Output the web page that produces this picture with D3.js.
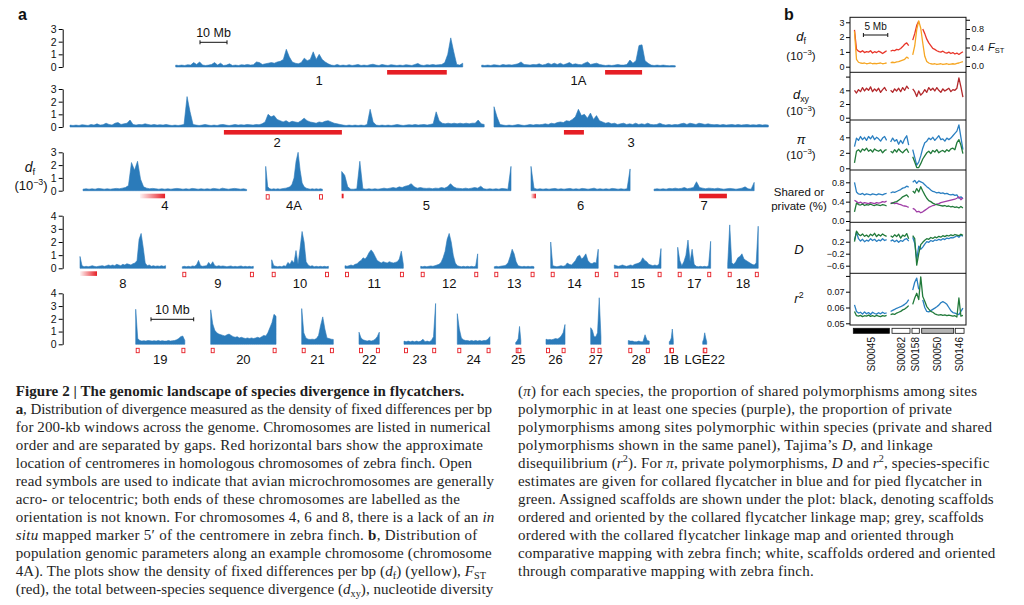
<!DOCTYPE html>
<html lang="en">
<head>
<meta charset="utf-8">
<title>The genomic landscape of species divergence in flycatchers</title>
<style>
  body { margin: 0; background: #fff; }
  svg { display: block; }
  text { white-space: pre; }
</style>
</head>
<body>
<svg id="fig" width="1024" height="605" viewBox="0 0 1024 605"></svg>

<script src="https://d3js.org/d3.v7.min.js"></script>
<script>
// ===================================
// DATA : panel a (df, 10^-3, per window)
// ===================================
var chromNames = ["1","1A","2","3","4","4A","5","6","7","8","9","10","11","12","13","14","15","17","18",
                  "19","20","21","22","23","24","25","26","27","28","1B","LGE22"];
var chromLengthMb = [106.3,71.7,153.4,101.6,60.6,21.0,62.7,36.7,37.1,31.7,26.3,21.0,21.6,21.1,14.7,17.6,17.3,12.2,11.3,
                     11.5,15.3,7.4,4.75,7.4,7.65,1.2,4.45,2.4,4.9,0.94,0.94];

var df_chr1 = [.15,.12,.15,.12,.18,.15,.35,.2,.4,.15,.12,.15,.2,.35,.15,.3,.12,.15,.25,.12,
  .15,.12,.18,.15,.2,.15,.18,.4,.35,.2,.25,.3,.35,.3,.4,.45,.6,1.4,.8,.4,
  .3,.25,.35,.7,.5,.6,1.2,.6,1.0,.6,.4,.25,.15,.12,.2,.12,.15,.12,.18,.12,
  .15,.2,.12,.15,.12,.18,.22,.15,.12,.2,.15,.12,.18,.15,.12,.15,.12,.18,.15,.12,
  .2,.28,.15,.12,.18,.15,.2,.15,.18,.2,.35,1.0,2.3,1.2,.2,.15,.3];
var df_chr1A = [.15,.12,.15,.12,.18,.15,.12,.2,.15,.18,.15,.2,.25,.4,.2,.18,.15,.2,.18,.25,
  .15,.2,.3,.2,.3,.2,.3,.18,.25,.35,.2,.25,.2,.18,.3,.4,.2,.25,.3,.2,
  .15,.12,.15,.12,.15,.2,.15,.15,.2,.55,.3,.5,1.7,1.75,.5,.3,.15,.12,.15,.12,.15,.12,.1,.12,.1];
var df_chr2 = [.15,.12,.15,.12,.18,.15,.12,.2,.15,.25,.15,.18,.3,.2,.15,.3,.35,.2,.25,.3,.55,
  .2,.15,.2,.18,.25,.2,.15,.2,.15,.18,.15,.2,.15,.12,.15,.12,.15,.2,
  2.4,1.2,
  .2,.15,.12,.15,.2,.15,.12,.15,.12,.18,.2,.15,.12,.15,.2,.15,.18,.15,.2,.18,.15,.2,.18,.25,.4,
  1.0,.8,.9,.6,.5,.4,.5,.35,.45,.4,.35,.5,.7,.5,.4,.35,.3,.4,.35,.45,.5,.4,.3,.25,
  .2,.15,.12,.15,.12,.15,.12,.15,.12,.2,1.4,.4,.15,.12,
  .15,.12,.15,.12,.15,.2,.15,.12,.15,.18,.15,.2,.15,.18,.2,.15,.2,.25,1.2,.5,.3,.25,.3,.25,.3,.25,.3,.25,.3,.25,.3,.3,.55,.25,.2];
var df_chr3 = [1.6,.8,.2,.15,.12,.15,.12,.15,.2,.15,.12,.15,.2,.15,.2,.18,.2,.25,.2,.3,
  .25,.35,.4,.35,.5,.45,.6,.8,1.4,.9,1.0,.7,1.1,.6,.9,.5,.4,.3,.35,.25,
  .3,.2,.25,.3,.2,.25,.2,.3,.2,.25,.2,.3,.2,.18,.2,.3,.2,.15,.2,.15,
  .2,.18,.25,.3,.2,.3,.25,.2,.3,.25,.2,.25,.2,.18,.2,.15,.2,.15,.18,.2,
  .15,.2,.15,.18,.2,.15,.18,.15,.2,.15,.18,.15];
var df_chr4 = [.12,.15,.12,.15,.12,.18,.15,.12,.15,.12,.15,.18,.15,.2,.25,.4,2.2,1.6,2.3,.9,
  .3,.2,.15,.18,.15,.12,.15,.12,.15,.12,.15,.18,.15,.12,.15,.12,.18,.15,.12,.15,
  .12,.15,.12,.18,.15,.12,.2,.15,.12,.15,.18,.15,.12,.15,.1];
var df_chr4A = [1.9,.3,.15,.12,.15,.12,.15,.12,.15,.18,.2,.25,.3,.5,1.0,2.3,3.0,1.6,.6,.3,.2,.15,.12,.15,.12,.15,.12,.15,.12];
var df_chr5 = [1.5,1.2,.3,.12,.12,.15,2.3,.15,.12,.15,.12,.15,.12,.15,.2,.15,.2,.25,.2,.3,
  .25,.35,.4,.55,.3,.2,.25,.2,.18,.2,.15,.2,.18,.25,.2,.3,.55,.3,.2,.18,
  .15,.2,.15,.2,.25,.2,.35,.15,.12,.15,.12,.15,.12,.18,.15,.12,1.9];
var df_chr6 = [1.9,.2,.12,.15,.12,.15,.12,.15,.18,.12,.15,.12,.15,.18,.12,.15,.12,.18,.15,.12,
  .15,.2,.12,.15,.12,.15,.12,.18,.15,.12,.15,.12,.15,1.7];
var df_chr7 = [.12,.15,.12,.15,.12,.18,.15,.2,.15,.18,.25,.15,.2,.25,.7,.25,.2,.15,.2,.18,
  .15,.2,.15,.12,.15,.18,.15,.12,.15,.2,.3,.15,.12,.65];
var df_chr8 = [.9,.2,.12,.15,.12,.15,.2,.15,.12,.15,.18,.2,.15,.2,.25,.2,.25,.2,.3,.25,
  .2,.3,.25,.35,.3,.25,.35,.4,.6,2.2,2.65,1.6,.4,.2,.25,.15,.2,.15,.18,.15,.2,.15,.2];
var df_chr9 = [.12,.15,.12,.15,.12,.18,.15,.25,.6,.2,.15,.18,.2,.45,.25,.5,.2,.15,.2,.15,
  .18,.15,.12,.15,.18,.12,.15,.12,.15,.18,.12,.15,.12,.15,.12,.15];
var df_chr10 = [.65,.2,.15,.12,.15,.12,.2,.15,.45,.3,.6,.4,1.35,.3,1.5,2.8,2.0,.5,.25,.15,.2,.12,.15,.12,.15,.12,.15,.12,.15];
var df_chr11 = [.2,.15,.2,.25,.2,.3,.35,.5,.6,.8,.7,.9,1.2,1.4,1.2,.9,.6,.5,.4,.5,.45,.4,.5,.45,.4,.45,.5,.7,1.3,.3];
var df_chr12 = [.15,.12,.15,.12,.15,.18,.15,.2,.25,.3,.45,.8,1.3,2.2,2.65,2.0,1.0,.4,.2,.15,.12,.15,.12,.15,.12,.15,.12,.15,1.1];
var df_chr13 = [.12,.15,.12,.15,.18,.2,.25,.45,.9,1.45,1.1,.5,.2,.15,.12,.15,.12,.15,.12,.15,.12];
var df_chr14 = [2.0,.2,.15,.12,.15,.2,.15,.2,.4,.3,.25,.4,.6,.9,1.0,.7,.85,1.1,.6,.4,.35,.45,.4,1.45];
var df_chr15 = [.25,.2,.15,.2,.25,.2,.15,.2,.25,.2,.3,.35,.4,.5,.8,.6,.5,.3,.25,.2,.25,.2,.3,1.5];
var df_chr17 = [1.6,.6,.2,.5,1.0,2.15,.5,1.45,.3,.15,.12,.15,.12,.15,.12,.2,2.05];
var df_chr18 = [.3,3.3,.4,.3,.5,.8,.9,1.1,.7,.6,.5,.4,.3,.25,.4,3.2];
var df_chr19 = [2.75,.45,.3,.25,.28,.25,.3,.28,.25,.28,.25,.3,.25,.28,.25,.25,.3,.25,.28,.3,.35,.45,.6,.65,.3];
var df_chr20 = [2.7,1.6,1.1,.9,.8,.75,.7,.65,.75,.8,.7,.6,.55,.6,.5,.55,.5,.45,.5,.45,.5,.45,.5,.55,.5,.6,.7,.65,.9,1.3,1.7,2.35,2.2];
var df_chr21 = [2.8,.9,.5,.4,.38,.4,.38,.45,.7,1.5,2.15,1.2,.5,.45,.4,.38];
var df_chr22 = [.95,.5,.35,.3,.25,.3,.25,.3,.4,.6,.95];
var df_chr23 = [.25,.2,.25,.2,.25,.2,.25,.2,.25,.4,.2,.25,.2,.3,.6,3.2];
var df_chr24 = [2.4,1.2,.5,.35,.3,.3,.25,.3,.25,.3,.25,.3,.25,.3,.3,.4,.6];
var df_chr25 = [.15,.25,.45,1.4,.3];
var df_chr26 = [.4,.35,.38,.35,.4,.45,.42,.5,.65,.9,1.55];
var df_chr27 = [1.3,1.1,.6,.6,.9,3.65,.6];
var df_chr28 = [.3,.25,.25,.2,.2,.25,.2,.2,.75,.3,.25];
var df_chr1B = [.2,.3,.5,1.2,.3];
var df_chrLGE22 = [.2,.4,.9,.5,.2];

var chromValues = [df_chr1,df_chr1A,df_chr2,df_chr3,df_chr4,df_chr4A,df_chr5,df_chr6,df_chr7,df_chr8,df_chr9,
  df_chr10,df_chr11,df_chr12,df_chr13,df_chr14,df_chr15,df_chr17,df_chr18,df_chr19,df_chr20,df_chr21,df_chr22,
  df_chr23,df_chr24,df_chr25,df_chr26,df_chr27,df_chr28,df_chr1B,df_chrLGE22];

// zebra finch centromeres (Mb along chromosome)
var centroChrom   = ["1","1A","2","3","4","5","6","7","8"];
var centroStartMb = [78.3,45.7,57.0,25.9,21.1,0,0,16.7,0];
var centroEndMb   = [100.4,59.4,100.7,33.3,30.4,0.7,1.85,27.0,6.3];
var centroFade    = [false,false,false,false,true,false,true,false,true];
// acro-/telocentric microchromosomes (both ends marked)
var teloChroms = ["4A","9","10","11","12","13","14","15","17","18","19","20","21","22","23","24","25","26","27","28","1B","LGE22"];

// ===================================
// DATA : panel b (chromosome 4A)
// ===================================
var bFst = [0.78,0.36,0.32,0.30,0.33,0.29,0.31,0.30,0.33,0.28,0.31,0.29,0.32,0.30,0.27,0.30,0.33,null,0.32,0.34,0.33,0.36,0.35,0.38,0.42,0.47,0.50,0.44,null,0.56,0.70,0.88,0.97,null,0.80,0.70,0.58,0.50,0.44,0.38,0.36,0.33,0.31,0.30,0.32,0.29,0.28,0.30,0.27,0.29,0.26,0.28,0.25,0.28,0.31];
var bDf = [2.4,0.5,0.3,0.25,0.22,0.25,0.2,0.22,0.25,0.2,0.22,0.2,0.23,0.25,0.2,0.22,0.25,null,0.28,0.3,0.28,0.32,0.35,0.4,0.45,0.5,0.65,0.55,null,0.8,1.4,2.5,3.1,2.6,1.6,0.7,0.35,0.25,0.2,0.18,0.2,0.15,0.18,0.2,0.15,0.18,0.2,0.15,0.18,0.2,0.18,0.22,0.25,0.3,0.35];
var bDxy = [4.0,3.6,4.1,3.8,4.4,3.9,4.3,4.0,4.5,3.8,4.2,3.9,4.3,3.7,4.1,4.4,3.9,null,4.0,3.7,4.2,3.9,4.3,3.8,4.4,4.0,4.6,4.2,null,4.2,3.8,3.1,3.9,3.3,3.6,4.1,3.7,4.4,4.0,4.3,3.9,4.4,4.0,3.7,4.2,3.9,4.1,4.3,3.8,4.1,4.0,4.3,5.8,4.5,3.0];
var bPiCollared = [2.8,3.9,3.6,4.1,3.7,4.0,3.6,4.1,3.8,4.2,3.7,4.0,3.8,3.5,3.9,4.1,3.6,null,3.4,3.9,3.5,3.7,3.1,3.6,3.2,3.8,4.2,3.0,null,2.4,1.4,0.4,0.8,1.6,2.6,3.3,3.5,3.9,3.7,4.0,3.6,3.9,4.2,3.7,3.8,3.5,3.9,3.7,3.9,4.2,4.5,4.8,5.6,4.0,2.4];
var bPiPied = [0.7,2.2,2.4,2.1,2.5,2.3,2.6,2.2,2.4,2.1,2.5,2.3,2.2,2.4,2.0,2.3,2.4,null,2.2,2.0,2.4,2.1,2.5,2.2,2.0,2.3,2.5,2.0,null,1.5,0.8,0.1,0.1,0.6,1.2,1.6,2.0,2.2,1.9,2.3,2.1,2.4,2.0,2.2,2.3,2.1,2.4,2.2,2.5,2.6,2.4,3.3,3.7,3.0,1.9];
var bShared = [0.43,0.40,0.37,0.39,0.36,0.38,0.37,0.36,0.38,0.37,0.36,0.38,0.37,0.38,0.40,0.39,0.41,null,0.37,0.38,0.36,0.37,0.35,0.34,0.32,0.31,0.30,0.28,null,0.26,0.24,0.19,0.20,0.17,0.19,0.22,0.25,0.28,0.30,0.32,0.33,0.35,0.36,0.38,0.39,0.40,0.41,0.42,0.43,0.44,0.45,0.47,0.50,0.44,0.48];
var bPrivCollared = [0.80,0.60,0.56,0.55,0.57,0.54,0.56,0.55,0.54,0.56,0.55,0.54,0.56,0.55,0.54,0.56,0.57,null,0.58,0.60,0.59,0.61,0.63,0.65,0.68,0.69,0.72,0.70,null,0.80,0.84,0.78,0.83,0.81,0.79,0.75,0.71,0.68,0.64,0.61,0.60,0.58,0.59,0.57,0.58,0.56,0.57,0.55,0.54,0.55,0.53,0.54,0.47,0.50,0.46];
var bPrivPied = [0.19,0.37,0.34,0.33,0.35,0.32,0.34,0.33,0.35,0.33,0.32,0.34,0.33,0.32,0.34,0.33,0.31,null,0.36,0.37,0.39,0.40,0.43,0.46,0.50,0.52,0.54,0.49,null,0.62,0.58,0.67,0.60,0.71,0.62,0.54,0.47,0.42,0.40,0.37,0.35,0.34,0.33,0.32,0.31,0.32,0.30,0.31,0.29,0.30,0.28,0.29,0.27,0.30,0.27];
var bDCollared = [0.26,0.52,0.30,0.22,0.28,0.20,0.25,0.22,0.30,0.24,0.28,0.21,0.26,0.23,0.30,0.24,0.27,null,0.22,0.26,0.20,0.25,0.18,0.24,0.21,0.28,0.30,0.22,null,0.35,0.15,-0.40,0.05,-0.05,0.02,0.12,0.20,0.18,0.24,0.21,0.26,0.24,0.28,0.25,0.30,0.27,0.32,0.30,0.34,0.33,0.36,0.40,0.35,0.42,0.38];
var bDPied = [0.20,0.55,0.45,0.40,0.46,0.38,0.42,0.36,0.45,0.40,0.48,0.37,0.44,0.39,0.46,0.41,0.38,null,0.40,0.35,0.43,0.37,0.45,0.32,0.42,0.38,0.47,0.30,null,0.40,0.30,-0.58,-0.20,0.10,0.18,0.25,0.30,0.28,0.34,0.31,0.36,0.33,0.38,0.35,0.40,0.37,0.41,0.39,0.43,0.40,0.44,0.42,0.40,0.45,0.41];
var bR2Collared = [0.0617,0.0575,0.0565,0.0570,0.0558,0.0572,0.0560,0.0568,0.0556,0.0570,0.0562,0.0558,0.0567,0.0560,0.0570,0.0562,0.0566,null,0.0575,0.0582,0.0588,0.0595,0.0600,0.0605,0.0612,0.0620,0.0630,0.0650,null,0.0710,0.0760,0.0786,0.0715,null,0.0648,0.0600,0.0575,0.0572,0.0580,0.0588,0.0596,0.0605,0.0615,0.0630,0.0637,0.0630,0.0620,0.0600,0.0580,0.0568,0.0565,0.0560,0.0555,0.0575,0.0596];
var bR2Pied = [0.0575,0.0548,0.0545,0.0550,0.0542,0.0548,0.0545,0.0552,0.0544,0.0548,0.0543,0.0550,0.0546,0.0542,0.0549,0.0545,0.0550,null,0.0555,0.0560,0.0556,0.0565,0.0570,0.0575,0.0585,0.0590,0.0600,0.0612,null,0.0620,0.0660,0.0690,0.0650,0.0794,0.0669,0.0640,0.0606,0.0590,0.0575,0.0570,0.0560,0.0555,0.0552,0.0555,0.0550,0.0553,0.0548,0.0552,0.0549,0.0545,0.0548,0.0540,0.0660,0.0545,0.0550];
var bWinStartMb = 0.92, bWinStepMb = 0.412;

var scaffoldNames   = ["S00045","S00082","S00158","S00050","S00146"];
var scaffoldStartMb = [0.68,8.62,12.72,14.71,21.6];
var scaffoldEndMb   = [8.07,12.31,14.22,21.28,23.4];
var scaffoldFill    = ["#000","#fff","#fff","#b4b4b4","#fff"];

// ===================================
// CAPTION
// ===================================
var captionLeft = [
  "<b>Figure 2 | The genomic landscape of species divergence in flycatchers.</b>",
  "<b>a</b>, Distribution of divergence measured as the density of fixed differences per bp",
  "for 200-kb windows across the genome. Chromosomes are listed in numerical",
  "order and are separated by gaps. Red horizontal bars show the approximate",
  "location of centromeres in homologous chromosomes of zebra finch. Open",
  "read symbols are used to indicate that avian microchromosomes are generally",
  "acro- or telocentric; both ends of these chromosomes are labelled as the",
  "orientation is not known. For chromosomes 4, 6 and 8, there is a lack of an <i>in</i>",
  "<i>situ</i> mapped marker 5\u2032 of the centromere in zebra finch. <b>b</b>, Distribution of",
  "population genomic parameters along an example chromosome (chromosome",
  "4A). The plots show the density of fixed differences per bp (<i>d</i><sub>f</sub>) (yellow), <i>F</i><sub>ST</sub>",
  "(red), the total between-species sequence divergence (<i>d</i><sub>xy</sub>), nucleotide diversity"
];
var captionRight = [
  "(<i>\u03c0</i>) for each species, the proportion of shared polymorphisms among sites",
  "polymorphic in at least one species (purple), the proportion of private",
  "polymorphisms among sites polymorphic within species (private and shared",
  "polymorphisms shown in the same panel), Tajima\u2019s <i>D</i>, and linkage",
  "disequilibrium (<i>r</i><sup>2</sup>). For <i>\u03c0</i>, private polymorphisms, <i>D</i> and <i>r</i><sup>2</sup>, species-specific",
  "estimates are given for collared flycatcher in blue and for pied flycatcher in",
  "green. Assigned scaffolds are shown under the plot: black, denoting scaffolds",
  "ordered and oriented by the collared flycatcher linkage map; grey, scaffolds",
  "ordered with the collared flycatcher linkage map and oriented through",
  "comparative mapping with zebra finch; white, scaffolds ordered and oriented",
  "through comparative mapping with zebra finch."
];

// ===================================
// LAYOUT
// ===================================
var chromRow = [0,0,1,1,2,2,2,2,2,3,3,3,3,3,3,3,3,3,3,4,4,4,4,4,4,4,4,4,4,4,4];
var chromX0 = [175.7,481.7,70,494,83,265.7,341.7,531,654,80,182.3,271.7,345,420.7,494.3,550.7,614.3,677.7,727.7,
               135.7,210.7,301.7,359,404,457.3,515.7,546,590.7,628.3,669.3,702.7];
var rowPxPerMb = [2.7,2.7,2.7,2.7,4.27];
var rowBasePx = [67,127,190.7,268.3,344.3];
var rowTopPx  = [29,89,152.3,215.7,293.3];
var rowMax    = [3,3,3,4,4];
var rowLabelY = [85,146.7,210,287.5,364.3];
var axisX = 62.7;

var capLeftX = 15.7, capRightX = 518;
var capBaseline = [396,414,432,450,468,486,504,522,540,558,576,594];
var capLeftEnd  = [464.3,492,490.7,483,472,494,460,494.3,477.3,491.7,486,493.3];
var capRightEnd = [977,952,992,932.7,989.3,982,993.7,983.7,953.7,995.3,813.7];

var sans = '"Liberation Sans", Arial, Helvetica, sans-serif';
var serif = '"Liberation Serif", "Times New Roman", serif';
var blue = "#2b7bba", red = "#e61e25";

var svg = d3.select("#fig");

// gradient for centromeres lacking a 5' marker
var grad = svg.append("defs").append("linearGradient").attr("id", "fade");
grad.append("stop").attr("offset", "0%").attr("stop-color", red).attr("stop-opacity", 0.05);
grad.append("stop").attr("offset", "100%").attr("stop-color", red).attr("stop-opacity", 1);

// rich text helper: <b>, <i>, <sub>, <sup>  (shifts done with dy)
function richText(sel, str, fs) {
  var st = {}, cur = 0;
  str.split(/(<\/?[a-z]+>)/).forEach(function(p) {
    if (!p) return;
    var m = p.match(/^<(\/?)([a-z]+)>$/);
    if (m) { st[m[2]] = !m[1]; return; }
    var t = sel.append("tspan").text(p);
    var shift = st.sub ? 0.22 * fs : (st.sup ? -0.38 * fs : 0);
    if (shift !== cur) { t.attr("dy", shift - cur); cur = shift; }
    if (st.b) t.attr("font-weight", "bold");
    if (st.i) t.attr("font-style", "italic");
    if (st.sub || st.sup) t.attr("font-size", fs * 0.68);
  });
  return sel;
}

function label(x, y, str, size, anchor) {
  var t = svg.append("text").attr("x", x).attr("y", y)
    .attr("font-family", sans).attr("font-size", size)
    .attr("text-anchor", anchor || "middle").attr("fill", "#111");
  return richText(t, str, size);
}

function scaleBar(x0, x1, y, txt, size) {
  var g = svg.append("g").attr("stroke", "#111").attr("stroke-width", 1);
  g.append("line").attr("x1", x0).attr("x2", x1).attr("y1", y).attr("y2", y);
  g.append("line").attr("x1", x0).attr("x2", x0).attr("y1", y - 2).attr("y2", y + 2);
  g.append("line").attr("x1", x1).attr("x2", x1).attr("y1", y - 2).attr("y2", y + 2);
  label((x0 + x1) / 2, y - 5, txt, size);
}

// ===================================
// PANEL A
// ===================================
label(18, 20, "<b>a</b>", 16, "start");

var rowY = rowBasePx.map(function(b, r) {
  return d3.scaleLinear().domain([0, rowMax[r]]).range([b, rowTopPx[r]]);
});

rowY.forEach(function(y, r) {
  var g = svg.append("g").attr("transform", "translate(" + axisX + ",0)")
    .call(d3.axisLeft(y).tickValues(d3.range(0, rowMax[r] + 1)).tickFormat(d3.format("d"))
      .tickSize(4).tickSizeOuter(0).tickPadding(2));
  g.attr("font-family", sans).attr("font-size", 10.5);
  g.selectAll("text").attr("fill", "#111");
});

label(30, 172, "<i>d</i><sub>f</sub>", 14);
label(31, 190, "(10<sup>\u22123</sup>)", 13);

var chromX = {};
chromNames.forEach(function(name, c) {
  var r = chromRow[c], vals = chromValues[c], len = chromLengthMb[c];
  var x = d3.scaleLinear().domain([0, len]).range([chromX0[c], chromX0[c] + len * rowPxPerMb[r]]);
  var y = rowY[r];
  chromX[name] = { x: x, row: r, len: len };
  var area = d3.area()
    .x(function(d, i) { return x(i / (vals.length - 1) * len); })
    .y0(y(0))
    .y1(function(d) { return y(d); });
  svg.append("path").datum(vals).attr("d", area)
    .attr("fill", blue).attr("stroke", blue).attr("stroke-width", 0.6).attr("stroke-linejoin", "round");
  label(x(len / 2), rowLabelY[r], name, 13);
});

// centromere bars
centroChrom.forEach(function(name, k) {
  var cx = chromX[name], x = cx.x, yb = rowBasePx[cx.row];
  svg.append("rect")
    .attr("x", x(centroStartMb[k])).attr("y", yb + 3)
    .attr("width", Math.max(1.5, x(centroEndMb[k]) - x(centroStartMb[k]))).attr("height", 4.6)
    .attr("fill", centroFade[k] ? "url(#fade)" : red);
});

// open symbols at both ends of microchromosomes
teloChroms.forEach(function(name) {
  var cx = chromX[name], x = cx.x, yb = rowBasePx[cx.row];
  [x(0), x(cx.len) - 3.4].forEach(function(px) {
    svg.append("rect").attr("x", px + 0.5).attr("y", yb + 4).attr("width", 3).attr("height", 4.4)
      .attr("fill", "#fff").attr("stroke", red).attr("stroke-width", 0.9);
  });
});

// 10 Mb scale bars
scaleBar(200, 200 + 10 * rowPxPerMb[0], 42.3, "10 Mb", 12.5);
scaleBar(151, 151 + 10 * rowPxPerMb[4], 319.3, "10 Mb", 12.5);

// ===================================
// PANEL B
// ===================================
label(784, 20, "<b>b</b>", 16, "start");

var bLeft = 850, bRight = 966, bTop = 17.3, bBottom = 325;
var bSeps = [72.3, 120, 170, 222.3, 273.3];
var bx = d3.scaleLinear().domain([0, 23.8]).range([bLeft, bRight]);
function bPos(i) { return bx(bWinStartMb + i * bWinStepMb); }

var yDf   = d3.scaleLinear().domain([0, 3]).range([66.7, 22.3]);
var yFst  = d3.scaleLinear().domain([0, 0.8]).range([66, 29]);
var yDxy  = d3.scaleLinear().domain([0, 4]).range([117.7, 90.3]);
var yPi   = d3.scaleLinear().domain([0, 4]).range([168.3, 137.3]);
var yPoly = d3.scaleLinear().domain([0, 0.8]).range([221, 182.3]);
var yD    = d3.scaleLinear().domain([-0.6, 0.2]).range([265.7, 241.7]);
var yR2   = d3.scaleLinear().domain([0.05, 0.07]).range([323.3, 291.7]);

function bAxis(y, ticks, labelled, fmt, right) {
  var ax = (right ? d3.axisRight(y) : d3.axisLeft(y)).tickValues(ticks).tickSize(4).tickPadding(1.5)
    .tickFormat(function(d) {
      return labelled.some(function(v) { return Math.abs(v - d) < 1e-9; }) ? d3.format(fmt)(d) : "";
    });
  var g = svg.append("g").attr("transform", "translate(" + (right ? bRight : bLeft) + ",0)").call(ax);
  g.select(".domain").remove();
  g.attr("font-family", sans).attr("font-size", 9);
  g.selectAll("text").attr("fill", "#111");
}

bAxis(yDf, [0, 1, 2, 3], [0, 1, 2, 3], "d");
bAxis(yFst, [0, 0.2, 0.4, 0.6, 0.8, 1.0], [0, 0.4, 0.8], ".1f", true);
bAxis(yDxy, [0, 2, 4, 6], [0, 2, 4], "d");
bAxis(yPi, [0, 2, 4, 6], [0, 2, 4], "d");
bAxis(yPoly, [0, 0.2, 0.4, 0.6, 0.8], [0, 0.4, 0.8], ".1f");
bAxis(yD, [-0.6, -0.2, 0.2, 0.6], [-0.6, -0.2, 0.2], ".1f");
bAxis(yR2, [0.05, 0.06, 0.07, 0.08], [0.05, 0.06, 0.07], ".2f");

function bLine(vals, y, color, w) {
  var line = d3.line()
    .defined(function(d) { return d !== null; })
    .x(function(d, i) { return bPos(i); })
    .y(function(d) { return y(d); });
  svg.append("path").datum(vals).attr("d", line)
    .attr("fill", "none").attr("stroke", color).attr("stroke-width", w || 1.3).attr("stroke-linejoin", "round");
}

var cFst = "#e8362a", cDf = "#f6a623", cDxy = "#b3282b", cBlue = "#2a7fc1", cGreen = "#217a3a", cPurple = "#a03da6";
bLine(bFst, yFst, cFst);
bLine(bDf, yDf, cDf);
bLine(bDxy, yDxy, cDxy);
bLine(bPiCollared, yPi, cBlue);
bLine(bPiPied, yPi, cGreen);
bLine(bPrivCollared, yPoly, cBlue);
bLine(bShared, yPoly, cPurple);
bLine(bPrivPied, yPoly, cGreen);
bLine(bDCollared, yD, cBlue);
bLine(bDPied, yD, cGreen);
bLine(bR2Collared, yR2, cBlue);
bLine(bR2Pied, yR2, cGreen);

// frame and separators
svg.append("rect").attr("x", bLeft).attr("y", bTop).attr("width", bRight - bLeft).attr("height", bBottom - bTop)
  .attr("fill", "none").attr("stroke", "#111").attr("stroke-width", 1);
bSeps.forEach(function(yy) {
  svg.append("line").attr("x1", bLeft).attr("x2", bRight).attr("y1", yy).attr("y2", yy)
    .attr("stroke", "#111").attr("stroke-width", 1);
});

scaleBar(bx(2.75), bx(7.75), 35, "5 Mb", 10);

// panel b row labels
label(801, 41, "<i>d</i><sub>f</sub>", 13);
label(801, 59.5, "(10<sup>\u22123</sup>)", 11.5);
label(988, 51, "<i>F</i><sub>ST</sub>", 11, "start");
label(801, 99, "<i>d</i><sub>xy</sub>", 13);
label(801, 115, "(10<sup>\u22123</sup>)", 11.5);
label(801, 143.5, "<i>\u03c0</i>", 13);
label(801, 158.5, "(10<sup>\u22123</sup>)", 11.5);
label(799, 196, "Shared or", 11.5);
label(799, 210, "private (%)", 11.5);
label(799, 254, "<i>D</i>", 13);
label(799, 303, "<i>r</i><sup>2</sup>", 13);

// scaffolds
scaffoldNames.forEach(function(name, k) {
  var x0 = bx(scaffoldStartMb[k]), x1 = bx(scaffoldEndMb[k]);
  svg.append("rect").attr("x", x0).attr("y", 328.3).attr("width", x1 - x0).attr("height", 5)
    .attr("fill", scaffoldFill[k]).attr("stroke", "#111").attr("stroke-width", 0.8);
  svg.append("text")
    .attr("transform", "translate(" + ((x0 + x1) / 2) + ",337) rotate(-90)")
    .attr("dy", "0.35em").attr("text-anchor", "end")
    .attr("font-family", sans).attr("font-size", 10).attr("fill", "#111")
    .text(name);
});

// ===================================
// CAPTION
// ===================================
function captionColumn(lines, x0, ends) {
  lines.forEach(function(str, i) {
    var t = svg.append("text").attr("x", x0).attr("y", capBaseline[i])
      .attr("font-family", serif).attr("font-size", 15).attr("fill", "#1e1e1e")
      .attr("textLength", ends[i] - x0).attr("lengthAdjust", "spacing");
    richText(t, str, 15);
  });
}
captionColumn(captionLeft, capLeftX, capLeftEnd);
captionColumn(captionRight, capRightX, capRightEnd);
</script>
</body>
</html>
